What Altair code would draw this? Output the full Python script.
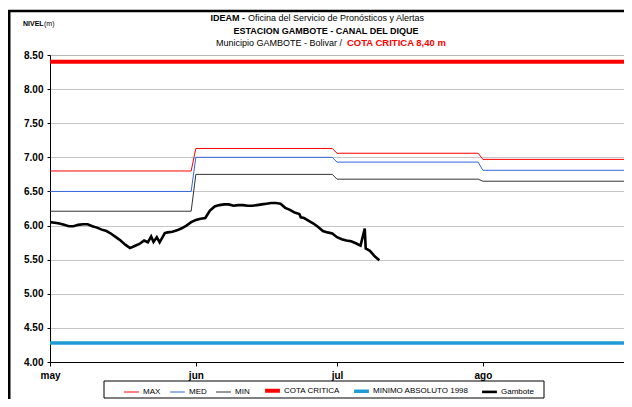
import altair as alt
import pandas as pd

# ---------------- data ----------------
series_names = ["MAX", "MED", "MIN", "COTA CRITICA", "MINIMO ABSOLUTO 1998", "Gambote"]
series_colors = ["#FF0000", "#3366DD", "#333333", "#FF0000", "#1E9BD7", "#000000"]
series_widths = [1, 1, 1, 4, 3.5, 2.6]

month_labels = ["may", "jun", "jul", "ago"]
month_start_day = [0, 31, 61, 92]
month_end_day = [30, 60, 91, 122]
max_vals = [6.80, 7.13, 7.06, 6.97]
med_vals = [6.50, 7.00, 6.93, 6.81]
min_vals = [6.21, 6.75, 6.68, 6.65]
cota_critica = 8.40
minimo_absoluto = 4.28

gambote_day = [0, 1, 2, 3, 4, 5, 6, 7, 8, 9, 10, 11, 12, 13, 14, 15, 16, 17, 18, 19,
               20, 20.8, 21.5, 22, 22.7, 23.3, 24.4, 25, 26, 27, 28, 29, 30, 31, 32, 33,
               34, 35, 36, 37, 38, 39, 40, 41, 42, 43, 44, 45, 46, 47, 48, 49, 50, 51,
               52, 53, 53.3, 54, 55, 56, 57, 58, 59, 60, 61, 62, 63, 64, 65, 66, 66.9,
               67.1, 68, 69, 70]
gambote_level = [6.05, 6.04, 6.03, 6.01, 5.99, 5.99, 6.01, 6.02, 6.02, 5.99, 5.97, 5.94,
                 5.92, 5.88, 5.83, 5.78, 5.72, 5.67, 5.70, 5.73,
                 5.78, 5.755, 5.84, 5.76, 5.83, 5.755, 5.89, 5.90, 5.91, 5.93, 5.96, 6.00,
                 6.05, 6.08, 6.10, 6.11,
                 6.22, 6.28, 6.30, 6.31, 6.31, 6.29, 6.30, 6.30, 6.29, 6.29, 6.30, 6.31,
                 6.32, 6.33, 6.33, 6.32, 6.26, 6.23,
                 6.19, 6.17, 6.12, 6.11, 6.07, 6.03, 5.98, 5.92, 5.90, 5.885, 5.83, 5.80,
                 5.78, 5.77, 5.74, 5.705, 5.955,
                 5.665, 5.63, 5.55, 5.49]

y_ticks = [4.0, 4.5, 5.0, 5.5, 6.0, 6.5, 7.0, 7.5, 8.0, 8.5]

# ---------------- table ----------------
rows = []
for name, vals in [("MAX", max_vals), ("MED", med_vals), ("MIN", min_vals)]:
    for s, e, v in zip(month_start_day, month_end_day, vals):
        rows.append({"serie": name, "dia": s, "nivel": v})
        rows.append({"serie": name, "dia": e, "nivel": v})
rows.append({"serie": "COTA CRITICA", "dia": month_start_day[0], "nivel": cota_critica})
rows.append({"serie": "COTA CRITICA", "dia": month_end_day[-1], "nivel": cota_critica})
rows.append({"serie": "MINIMO ABSOLUTO 1998", "dia": month_start_day[0], "nivel": minimo_absoluto})
rows.append({"serie": "MINIMO ABSOLUTO 1998", "dia": month_end_day[-1], "nivel": minimo_absoluto})
for d, v in zip(gambote_day, gambote_level):
    rows.append({"serie": "Gambote", "dia": d, "nivel": v})
df = pd.DataFrame(rows)
df["orden"] = range(len(df))

label_expr = " : ".join(
    f"datum.value == {d} ? '{m}'" for d, m in zip(month_start_day, month_labels)
) + " : ''"

W, H = 574, 307
FONT = "Liberation Sans"

legend_cfg = dict(title=None, orient="none", legendX=67, legendY=321,
                  direction="horizontal", columns=6, symbolType="stroke",
                  symbolSize=220, labelFont=FONT, labelFontSize=8,
                  labelColor="black", labelOffset=2, columnPadding=7, padding=5,
                  labelBaseline="middle")

lines = alt.Chart(df).mark_line(clip=True).encode(
    x=alt.X("dia:Q",
            scale=alt.Scale(domain=[month_start_day[0], month_end_day[-1]], nice=False, zero=False),
            axis=alt.Axis(values=month_start_day, labelExpr=label_expr, title=None,
                          grid=False, tickSize=4, labelPadding=4, domainColor="black",
                          tickColor="black", labelFont=FONT, labelFontSize=10,
                          labelFontWeight="bold", labelColor="black", labelFlush=False)),
    y=alt.Y("nivel:Q",
            scale=alt.Scale(domain=[y_ticks[0], y_ticks[-1]], nice=False, zero=False),
            axis=alt.Axis(values=y_ticks, format=".2f", title=None, grid=True,
                          gridColor="#8c8c8c", gridDash=[1, 1], tickSize=3, labelPadding=4,
                          domainColor="black", tickColor="black", labelFont=FONT,
                          labelFontSize=10, labelFontWeight="bold", labelColor="black")),
    color=alt.Color("serie:N", sort=series_names,
                    scale=alt.Scale(type="ordinal", domain=series_names, range=series_colors),
                    legend=alt.Legend(**legend_cfg)),
    strokeWidth=alt.StrokeWidth("serie:N", sort=series_names,
                                scale=alt.Scale(type="ordinal", domain=series_names,
                                                range=series_widths),
                                legend=alt.Legend(**legend_cfg)),
    order="orden:Q",
)

one = pd.DataFrame({"k": [0]})
base = alt.Chart(one)

def txt(text, x, y, align="center", weight="normal", color="black", size=9, font=FONT):
    return base.mark_text(text=text, align=align, baseline="middle", fontWeight=weight,
                          color=color, fontSize=size, font=font).encode(
        x=alt.value(x), y=alt.value(y))

title1a = txt("IDEAM -", 195, -37.5, align="right", weight="bold")
title1b = txt("Oficina del Servicio de Pronósticos y Alertas", 198, -37.5, align="left")
title2 = txt("ESTACION GAMBOTE - CANAL DEL DIQUE", 276, -24.3, weight="bold")
title3a = txt("Municipio GAMBOTE -  Bolivar  /", 292, -11.7, align="right")
title3b = txt("COTA CRITICA 8,40 m", 297, -11.7, align="left", weight="bold",
              color="#FF0000", size=9.5)
nivel_a = txt("NIVEL", -27, -31, align="left", weight="bold", size=7)
nivel_b = txt("(m)", -6, -31, align="left", size=7)

legend_box = base.mark_rect(fill="white", fillOpacity=0, stroke="black", strokeWidth=1).encode(
    x=alt.value(54), x2=alt.value(494), y=alt.value(326), y2=alt.value(343))

frame_left = base.mark_rule(color="black", strokeWidth=3).encode(
    x=alt.value(-41), y=alt.value(-44), y2=alt.value(344))
frame_top = base.mark_rule(color="black", strokeWidth=2.5).encode(
    x=alt.value(-42), x2=alt.value(W), y=alt.value(-44))

chart = alt.layer(
    legend_box, lines, title1a, title1b, title2, title3a, title3b, nivel_a, nivel_b,
    frame_left, frame_top
).properties(
    width=W, height=H,
    autosize=alt.AutoSizeParams(type="none"),
    padding={"left": 42, "top": 47, "right": 0, "bottom": 37},
).configure_view(
    stroke="#9a9a9a", strokeWidth=1
).configure(
    background="white"
)

chart.save("out.html", embed_options={"renderer": "svg", "actions": False})
